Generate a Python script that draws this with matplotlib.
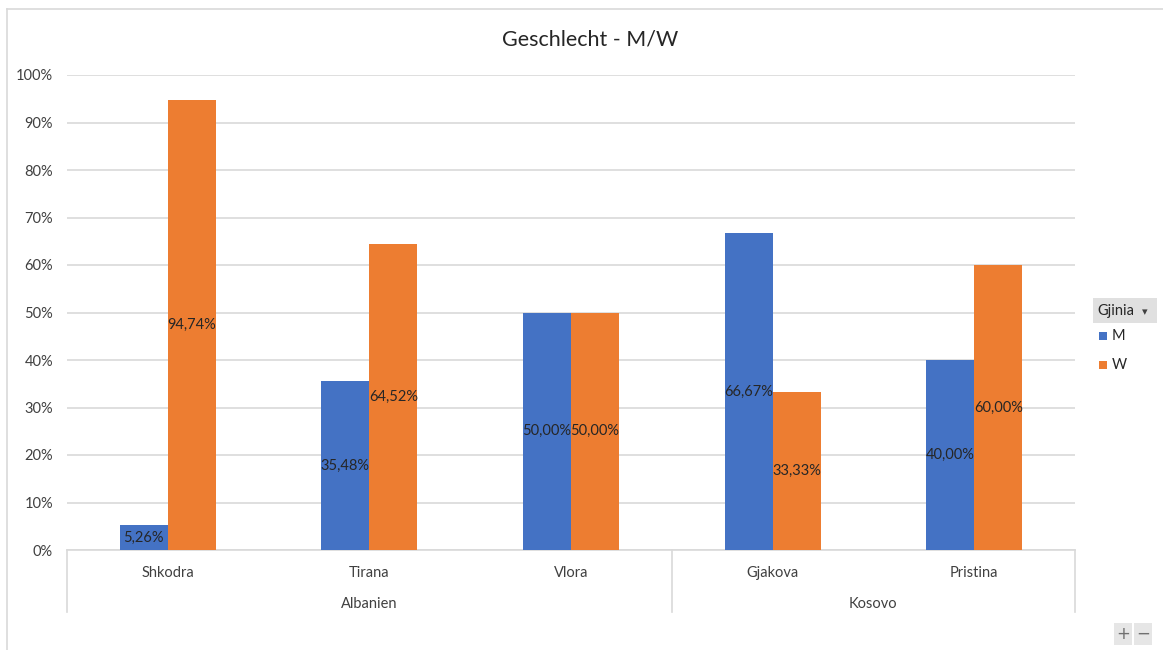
import matplotlib
matplotlib.use("Agg")
import matplotlib.pyplot as plt
from matplotlib.patches import Rectangle
from matplotlib.lines import Line2D
import matplotlib.transforms as mtransforms

plt.rcParams['font.family'] = ['Lato', 'DejaVu Sans']

# Data
cities = ["Shkodra", "Tirana", "Vlora", "Gjakova", "Pristina"]
countries = ["Albanien", "Kosovo"]
country_sizes = [3, 2]
share_m = [5.26, 35.48, 50.00, 66.67, 40.00]
share_w = [94.74, 64.52, 50.00, 33.33, 60.00]
series_names = ["M", "W"]
legend_title = "Gjinia"
title = "Geschlecht - M/W"

BLUE = "#4472C4"
ORANGE = "#ED7D31"
GRID = "#d9d9d9"
TEXT = "#404040"

W, H = 1163, 650
fig = plt.figure(figsize=(W / 100, H / 100), dpi=100)

def fx(px):
    return px / W

def fy(py):
    return 1 - py / H

# outer chart frame
fig.add_artist(Line2D([fx(7), fx(7)], [fy(9), fy(651)], color=GRID, lw=1.2))
fig.add_artist(Line2D([fx(7), fx(1164)], [fy(9), fy(9)], color=GRID, lw=1.2))

ax = fig.add_axes([fx(67), fy(550), fx(1075) - fx(67), fy(75) - fy(550)])
n = len(cities)
ax.set_xlim(0, n)
ax.set_ylim(0, 100)

bw = 0.238
xs = [i + 0.5 for i in range(n)]
bars_m = ax.bar([x - bw / 2 for x in xs], share_m, width=bw, color=BLUE, zorder=3)
bars_w = ax.bar([x + bw / 2 for x in xs], share_w, width=bw, color=ORANGE, zorder=3)

def fmt(v):
    return f"{v:.2f}%".replace(".", ",")

for bars, vals in ((bars_m, share_m), (bars_w, share_w)):
    for b, v in zip(bars, vals):
        ax.text(b.get_x() + b.get_width() / 2, v / 2, fmt(v), ha="center", va="center",
                fontsize=10.5, color="#262626", zorder=4)

ax.set_yticks(range(0, 101, 10))
ax.set_yticklabels([f"{t}%" for t in range(0, 101, 10)], fontsize=10.5, color=TEXT)
ax.yaxis.grid(True, color=GRID, lw=1.2, zorder=0)
ax.tick_params(axis="y", length=0, pad=10)
ax.tick_params(axis="x", length=0, labelbottom=False)
for s in ("top", "right", "left"):
    ax.spines[s].set_visible(False)
ax.spines["bottom"].set_color(GRID)
ax.spines["bottom"].set_linewidth(1.2)

# category axis: city labels, country labels, and separators
trans = mtransforms.blended_transform_factory(ax.transData, fig.transFigure)
for x, c in zip(xs, cities):
    ax.text(x, fy(573), c, transform=trans, ha="center", va="center", fontsize=10.5,
            color=TEXT)

start = 0
seps = [0]
for name, size in zip(countries, country_sizes):
    ax.text(start + size / 2, fy(604), name, transform=trans, ha="center", va="center",
            fontsize=10.5, color=TEXT)
    start += size
    seps.append(start)
for s in seps:
    ax.add_line(Line2D([s, s], [fy(550), fy(612)], transform=trans, color=GRID, lw=1.2,
                       clip_on=False))

fig.text(fx(590), fy(40), title, ha="center", va="center", fontsize=15.5, color="#262626")

# legend with field button
fig.add_artist(Rectangle((fx(1093), fy(323)), fx(1157) - fx(1093), fy(298) - fy(323),
                         facecolor="#e0e0e0", edgecolor="none"))
fig.text(fx(1097), fy(311), legend_title, ha="left", va="center", fontsize=10.5,
         color="#262626")
fig.text(fx(1145), fy(312), "\u25BE", ha="center", va="center", fontsize=8, color="#404040",
         family="DejaVu Sans")
for name, col, py in zip(series_names, (BLUE, ORANGE), (336, 365)):
    fig.add_artist(Rectangle((fx(1099), fy(py + 4)), fx(8), 8 / H, facecolor=col,
                             edgecolor="none"))
    fig.text(fx(1112), fy(py), name, ha="left", va="center", fontsize=10.5, color="#262626")

# zoom buttons
for px0, sym in ((1114, "+"), (1134, "\u2212")):
    fig.add_artist(Rectangle((fx(px0), fy(645)), fx(18), 22 / H, facecolor="#e6e6e6",
                             edgecolor="none"))
    fig.text(fx(px0 + 9), fy(634), sym, ha="center", va="center", fontsize=12,
             color="#707070", family="DejaVu Sans")

fig.savefig("out.png", dpi=100, facecolor="white")
